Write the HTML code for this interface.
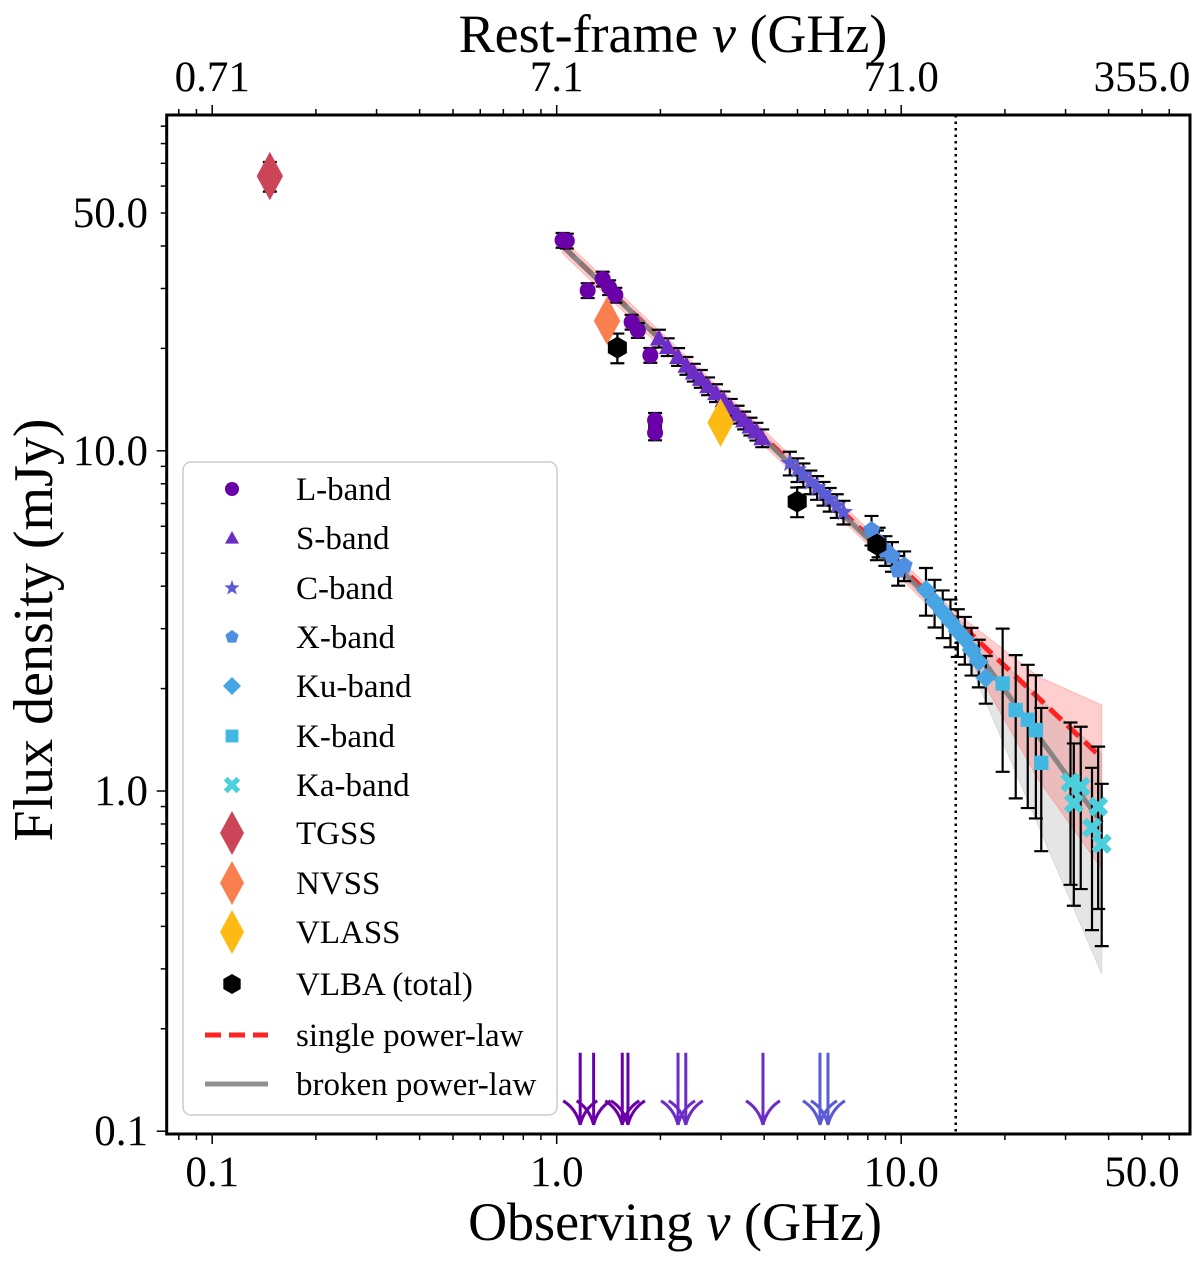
<!DOCTYPE html>
<html><head><meta charset="utf-8"><style>
body{margin:0;background:#fff}
svg{display:block;font-family:"Liberation Serif","DejaVu Serif",serif}
</style></head><body>
<svg id="chart" width="1200" height="1263" viewBox="0 0 1200 1263" xmlns="http://www.w3.org/2000/svg">
<rect x="0" y="0" width="1200" height="1263" fill="#fff"/>
<g id="bands"></g><g id="lines"></g><g id="errs"></g><g id="marks"></g><g id="axes"></g><g id="legend"></g>
</svg>
<script>
// ---- data ----
const lNu=[1.04,1.07,1.23,1.36,1.42,1.48,1.65,1.72,1.87,1.93,1.93];
const lFlux=[41.6,41.4,29.6,32.0,30.2,28.7,23.9,22.6,19.1,12.3,11.3];
const sNu=[1.98,2.1,2.25,2.38,2.5,2.62,2.75,2.9,3.05,3.2,3.35,3.5,3.65,3.8,3.95];
const sFlux=[21.4,20.2,18.9,17.8,17.0,16.3,15.5,14.8,14.1,13.4,12.8,12.3,11.8,11.4,10.9];
const cNu=[4.75,5.0,5.2,5.45,5.7,5.95,6.2,6.5,6.8];
const cFlux=[9.2,8.8,8.5,8.1,7.8,7.5,7.2,6.9,6.6];
const xNu=[8.2,8.6,9.0,9.4,9.8,10.2];
const xFlux=[5.85,5.4,5.1,4.9,4.46,4.6];
const kuNu=[11.8,12.5,13.2,13.9,14.6,15.3,16.0,16.8,17.6];
const kuFlux=[3.9,3.6,3.35,3.15,2.95,2.8,2.6,2.4,2.15];
const kNu=[19.7,21.5,23.3,24.6,25.5];
const kFlux=[2.07,1.73,1.62,1.51,1.21];
const kaNu=[31.0,31.7,33.2,35.8,37.3,38.2];
const kaFlux=[1.06,0.92,1.03,0.78,0.9,0.70];
const tgssNu=[0.147],tgssFlux=[64.2];
const nvssNu=[1.40],nvssFlux=[24.1];
const vlassNu=[2.99],vlassFlux=[12.1];
const vlbaNu=[1.50,4.99,8.5],vlbaFlux=[20.1,7.09,5.3];
const ulNu=[1.17,1.28,1.55,1.61,2.25,2.37,3.97,5.81,6.13];
const ulFlux=[0.17,0.17,0.17,0.17,0.17,0.17,0.17,0.17,0.17];
const fitNu=[1.04,14.4,38.2];
const brokenFlux=[40,3.12,0.805];
const singleFlux=[40,1.25];
const bandNu=[1.04,8,14.4,25,38.2];
const redLo=[38,5.3,2.9,1.08,0.59];
const redHi=[42,5.9,3.35,2.17,1.79];
const greyLo=[39,5.45,2.95,0.79,0.29];
const greyHi=[41,5.75,3.25,1.89,1.29];
const xTicks=[0.1,1.0,10.0,50.0];
const xTickLabels=["0.1","1.0","10.0","50.0"];
const topTickLabels=["0.71","7.1","71.0","355.0"];
const yTicks=[0.1,1.0,10.0,50.0];
const yTickLabels=["0.1","1.0","10.0","50.0"];
const breakNu=14.4;

// ---- scales ----
const X0=166.7,X1=1190,Y0=115,Y1=1134;
const xs=v=>556.7+344.5*Math.log10(v);
const ys=v=>791-340.2*Math.log10(v);
const NS="http://www.w3.org/2000/svg";
function mk(parent,tag,attrs,text){const e=document.createElementNS(NS,tag);for(const k in attrs)e.setAttribute(k,attrs[k]);if(text!==undefined)e.textContent=text;document.getElementById(parent).appendChild(e);return e;}

function band(lo,hi,fill,name){
  let p=bandNu.map((n,i)=>xs(n)+","+ys(hi[i])).concat(bandNu.map((n,i)=>xs(n)+","+ys(lo[i])).reverse());
  const e=mk('bands','polygon',{points:p.join(' '),fill:fill,stroke:fill,'stroke-width':1});
  
  
}
band(greyLo,greyHi,'rgba(150,150,150,0.25)','broken-fit-band');
band(redLo,redHi,'rgba(255,80,80,0.28)','single-fit-band');

let bl=mk('lines','line',{x1:xs(breakNu),x2:xs(breakNu),y1:Y0,y2:Y1,stroke:'#000','stroke-width':2.5,'stroke-dasharray':'2.5,4'});



let sl=mk('lines','line',{x1:xs(fitNu[0]),y1:ys(singleFlux[0]),x2:xs(fitNu[2]),y2:ys(singleFlux[1]),stroke:'#f22','stroke-width':5,'stroke-dasharray':'16,8'});


let bp=mk('lines','polyline',{points:fitNu.map((n,i)=>xs(n)+","+ys(brokenFlux[i])).join(' '),fill:'none',stroke:'rgba(128,128,128,0.9)','stroke-width':5});



function shape(g,type,x,y,s,color){
  let e;
  if(type==='circle')e=mk(g,'circle',{cx:x,cy:y,r:s,fill:color});
  else if(type==='tri')e=mk(g,'polygon',{points:`${x},${y-s} ${x+s},${y+s*0.8} ${x-s},${y+s*0.8}`,fill:color});
  else if(type==='star'){let p=[];for(let i=0;i<10;i++){const r=i%2?s*0.42:s;const a=-Math.PI/2+i*Math.PI/5;p.push((x+r*Math.cos(a))+","+(y+r*Math.sin(a)));}e=mk(g,'polygon',{points:p.join(' '),fill:color});}
  else if(type==='pent'){let p=[];for(let i=0;i<5;i++){const a=-Math.PI/2+i*2*Math.PI/5;p.push((x+s*Math.cos(a))+","+(y+s*Math.sin(a)));}e=mk(g,'polygon',{points:p.join(' '),fill:color});}
  else if(type==='dia')e=mk(g,'polygon',{points:`${x},${y-s} ${x+s},${y} ${x},${y+s} ${x-s},${y}`,fill:color});
  else if(type==='sq')e=mk(g,'rect',{x:x-s*0.8,y:y-s*0.8,width:s*1.6,height:s*1.6,fill:color});
  else if(type==='x')e=mk(g,'path',{d:`M${x-s*0.7},${y-s*0.7}L${x+s*0.7},${y+s*0.7}M${x+s*0.7},${y-s*0.7}L${x-s*0.7},${y+s*0.7}`,stroke:color,'stroke-width':s*0.6});
  else if(type==='tdia')e=mk(g,'polygon',{points:`${x},${y-s*1.1} ${x+s*0.6},${y} ${x},${y+s*1.1} ${x-s*0.6},${y}`,fill:color});
  else if(type==='hex'){let p=[];for(let i=0;i<6;i++){const a=Math.PI/2+i*Math.PI/3;p.push((x+s*Math.cos(a))+","+(y+s*Math.sin(a)));}e=mk(g,'polygon',{points:p.join(' '),fill:color});}
  return e;
}
function errbar(x,v,err){
  const yt=ys(v+err),yb=ys(Math.max(v-err,0.05));
  mk('errs','path',{d:`M${x},${yt}L${x},${yb}M${x-7},${yt}L${x+7},${yt}M${x-7},${yb}L${x+7},${yb}`,stroke:'#000','stroke-width':2.2,fill:'none'});
}
const series=[
 {name:'l-band',nu:lNu,f:lFlux,type:'circle',s:8,c:'#6a00a8',ef:0.05,ea:0},
 {name:'s-band',nu:sNu,f:sFlux,type:'tri',s:9,c:'#6c2dc7',ef:0.06,ea:0},
 {name:'c-band',nu:cNu,f:cFlux,type:'star',s:10,c:'#5b5bd6',ef:0.08,ea:0},
 {name:'x-band',nu:xNu,f:xFlux,type:'pent',s:9,c:'#4f8ee0',ef:0.1,ea:0},
 {name:'ku-band',nu:kuNu,f:kuFlux,type:'dia',s:10,c:'#45a6e3',ef:0.16,ea:0},
 {name:'k-band',nu:kNu,f:kFlux,type:'sq',s:9,c:'#41b8e2',ef:0,ea:0.45},
 {name:'ka-band',nu:kaNu,f:kaFlux,type:'x',s:11,c:'#4ccfdc',ef:0,ea:0.5},
 {name:'tgss',nu:tgssNu,f:tgssFlux,type:'tdia',s:22,c:'#cc4458',ef:0.1,ea:0},
 {name:'nvss',nu:nvssNu,f:nvssFlux,type:'tdia',s:22,c:'#f97f4f',ef:0,ea:0},
 {name:'vlass',nu:vlassNu,f:vlassFlux,type:'tdia',s:22,c:'#fcba12',ef:0.07,ea:0},
 {name:'vlba',nu:vlbaNu,f:vlbaFlux,type:'hex',s:11,c:'#000',ef:0.1,ea:0}
];
series.forEach(sr=>{
  sr.nu.forEach((n,i)=>{
    const x=xs(n),v=sr.f[i];
    const err=sr.ef? v*sr.ef : sr.ea*v;
    if(err>0)errbar(x,v,err);
    const e=shape('marks',sr.type,x,ys(v),sr.s,sr.c);
    
    
  });
});
const ulColors=['#6a00a8','#6a00a8','#6a00a8','#6a00a8','#6c2dc7','#6c2dc7','#6c2dc7','#5b5bd6','#5b5bd6'];
ulNu.forEach((n,i)=>{
  const x=xs(n),yt=ys(ulFlux[i]),yb=yt+72;
  const e=mk('marks','path',{d:`M${x},${yt}L${x},${yb}M${x-17},${yb-24}Q${x-4},${yb-16} ${x},${yb}Q${x+4},${yb-16} ${x+17},${yb-24}`,stroke:ulColors[i],'stroke-width':3,fill:'none'});
  
  
});

let fr=mk('axes','rect',{x:X0,y:Y0,width:X1-X0,height:Y1-Y0,fill:'none',stroke:'#000','stroke-width':3});


for(let d=-2;d<=1;d++)for(let m=1;m<10;m++){
  const v=m*Math.pow(10,d),x=xs(v);
  if(x<X0+1||x>X1-1)continue;
  const L=m===1?9:5;
  mk('axes','line',{x1:x,x2:x,y1:Y1+1,y2:Y1+1+L,stroke:'#000','stroke-width':1.5});
  mk('axes','line',{x1:x,x2:x,y1:Y0-1,y2:Y0-1-L,stroke:'#000','stroke-width':1.5});
}
for(let d=-1;d<=1;d++)for(let m=1;m<10;m++){
  const v=m*Math.pow(10,d),y=ys(v);
  if(y<Y0+1||y>Y1-1)continue;
  const L=m===1?9:5;
  mk('axes','line',{x1:X0-1,x2:X0-1-L,y1:y,y2:y,stroke:'#000','stroke-width':1.5});
}
xTicks.forEach((v,i)=>{
  const t=mk('axes','text',{x:xs(v),y:1186,'font-size':43,'text-anchor':'middle'},xTickLabels[i]);
  
  
  const t2=mk('axes','text',{x:xs(v),y:91,'font-size':43,'text-anchor':'middle'},topTickLabels[i]);
  
  
});
yTicks.forEach((v,i)=>{
  const t=mk('axes','text',{x:148,y:ys(v)+14,'font-size':43,'text-anchor':'end'},yTickLabels[i]);
  
  
});
let xt=mk('axes','text',{x:675,y:1240,'font-size':54,'text-anchor':'middle'});
xt.innerHTML='Observing <tspan font-style="italic">ν</tspan> (GHz)';


let tt=mk('axes','text',{x:673,y:52,'font-size':54,'text-anchor':'middle'});
tt.innerHTML='Rest-frame <tspan font-style="italic">ν</tspan> (GHz)';


let yt=mk('axes','text',{x:0,y:0,'font-size':56,'text-anchor':'middle',transform:'translate(52,630) rotate(-90)'},'Flux density (mJy)');



let lb=mk('legend','rect',{x:183,y:462,width:374,height:653,rx:8,fill:'rgba(255,255,255,0.85)',stroke:'#ccc','stroke-width':1.5});


const legLabels=['L-band','S-band','C-band','X-band','Ku-band','K-band','Ka-band','TGSS','NVSS','VLASS','VLBA (total)','single power-law','broken power-law'];
const legY=[489,538,588,637,686,736,785,833,883,932,984,1035,1084];
const legMark=[['circle',7,'#6a00a8'],['tri',7,'#6c2dc7'],['star',8,'#5b5bd6'],['pent',7,'#4f8ee0'],['dia',9,'#45a6e3'],['sq',8,'#41b8e2'],['x',9,'#4ccfdc'],['tdia',20,'#cc4458'],['tdia',20,'#f97f4f'],['tdia',20,'#fcba12'],['hex',10,'#000']];
legLabels.forEach((lab,i)=>{
  const y=legY[i];
  if(i<11){const e=shape('legend',legMark[i][0],232,y,legMark[i][1],legMark[i][2]);}
  else if(i===11){mk('legend','line',{x1:205,x2:268,y1:y,y2:y,stroke:'#f22','stroke-width':5,'stroke-dasharray':'16,8'});}
  else {mk('legend','line',{x1:205,x2:268,y1:y,y2:y,stroke:'#909090','stroke-width':5});}
  const t=mk('legend','text',{x:296,y:y+11,'font-size':33},lab);
  
  
});
</script>
</body></html>
